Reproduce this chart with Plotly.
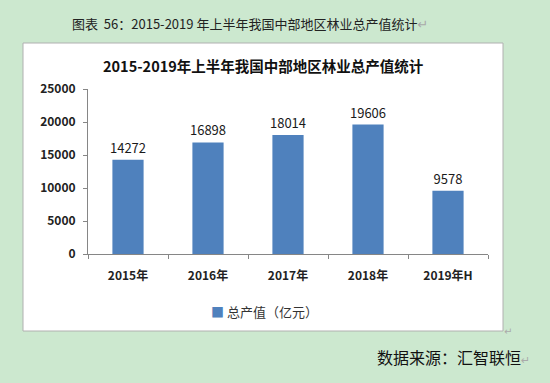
import plotly.graph_objects as go

categories = ["2015年", "2016年", "2017年", "2018年", "2019年H"]
values = [14272, 16898, 18014, 19606, 9578]
series_name = "总产值（亿元）"
y_ticks = [0, 5000, 10000, 15000, 20000, 25000]
y_tick_labels = ["0", "5000", "10000", "15000", "20000", "25000"]
caption = "图表  56：2015-2019 年上半年我国中部地区林业总产值统计"
chart_title = "2015-2019年上半年我国中部地区林业总产值统计"
source = "数据来源：汇智联恒"

W, H = 550, 383
L, R, T, B = 88, 488, 89, 254  # plot area in pixels


def px(x):
    return (x - L) / (R - L)


def py(y):
    return (B - y) / (B - T)


FONT = "Noto Sans CJK SC, DejaVu Sans, sans-serif"
BAR = "#4f81bd"

fig = go.Figure()
fig.add_trace(go.Bar(
    x=categories, y=values, name=series_name,
    marker=dict(color=BAR, line=dict(width=0)),
    width=0.39,
    text=[str(v) for v in values], textposition="outside",
    constraintext="none",
    textfont=dict(size=13, color="#1a1a1a", family=FONT),
    cliponaxis=False,
    showlegend=False,
    hoverinfo="skip",
))

fig.update_layout(
    width=W, height=H,
    margin=dict(l=L, r=W - R, t=T, b=H - B, pad=0),
    paper_bgcolor="#cce8cf",
    plot_bgcolor="white",
    font=dict(family=FONT, color="#222"),
    showlegend=False,
    xaxis=dict(type="category", showline=True, linecolor="#868686", linewidth=1,
               ticks="outside", tickson="boundaries", ticklen=4, tickcolor="#868686",
               ticklabelstandoff=11,
               tickfont=dict(size=12, color="#222", family=FONT, weight="bold"),
               showgrid=False, fixedrange=True),
    yaxis=dict(range=[0, 25000], tickvals=y_ticks, ticktext=y_tick_labels,
               showline=True, linecolor="#868686",
               linewidth=1, ticks="outside", ticklen=4, tickcolor="#868686",
               ticklabelstandoff=5,
               tickfont=dict(size=12, color="#222", family=FONT, weight="bold"),
               showgrid=False, zeroline=False, fixedrange=True),
    shapes=[dict(type="rect", xref="paper", yref="paper", layer="below",
                 x0=px(23), x1=px(503), y0=py(331), y1=py(43),
                 fillcolor="white", line=dict(color="#b0b0b0", width=1))],
)

annotations = [
    dict(text=caption + "<span style='color:#aaa'>↵</span>", x=px(250), y=py(23),
         font=dict(size=13, color="#222")),
    dict(text="<b>" + chart_title + "</b>", x=px(263.5), y=py(65),
         font=dict(size=14.5, color="#111")),
    dict(text="<span style='color:%s'>■</span> %s" % (BAR, series_name), x=px(264), y=py(311),
         font=dict(size=13, color="#333")),
    dict(text=source + "<span style='color:#aaa;font-size:11px'>↵</span>", x=px(453), y=py(357),
         font=dict(size=16, color="#111")),
    dict(text="↵", x=px(508), y=py(330), font=dict(size=10, color="#aaa")),
]
for a in annotations:
    a.update(xref="paper", yref="paper", showarrow=False, xanchor="center", yanchor="middle")
fig.update_layout(annotations=annotations)

fig.write_html("out.html", config={"displayModeBar": False, "staticPlot": True},
               post_script="document.body.style.margin='0';document.body.style.overflow='hidden';")
